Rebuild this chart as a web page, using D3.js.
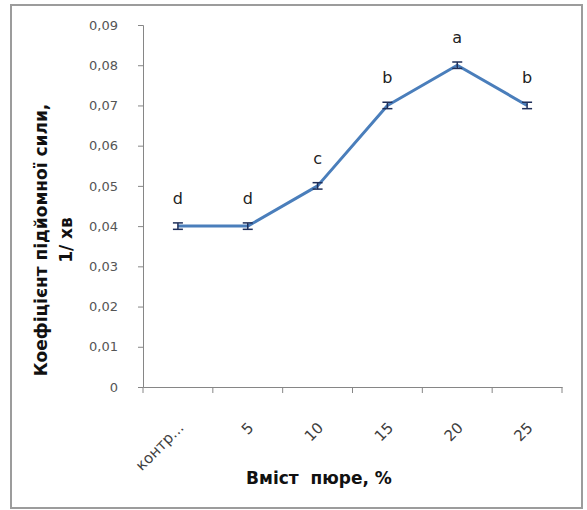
<!DOCTYPE html>
<html>
<head>
<meta charset="utf-8">
<script src="https://cdn.jsdelivr.net/npm/d3@7"></script>
<style>
  body { margin: 0; background: #fff; }
  text { font-family: "DejaVu Sans", Verdana, sans-serif; }
</style>
</head>
<body>
<svg id="viz"></svg>
<script>
var width = 587;
var height = 510;

// data
var categories = ["контр...", "5", "10", "15", "20", "25"];
var values = [0.04, 0.04, 0.05, 0.07, 0.08, 0.07];
var errors = [0.0008, 0.0008, 0.0008, 0.0008, 0.0008, 0.0008];
var letters = ["d", "d", "c", "b", "a", "b"];
var yTicks = [0, 0.01, 0.02, 0.03, 0.04, 0.05, 0.06, 0.07, 0.08, 0.09];

var svg = d3.select("#viz").attr("width", width).attr("height", height);

// outer frame
svg.append("rect")
    .attr("x", 11).attr("y", 5)
    .attr("width", 571).attr("height", 503)
    .style("fill", "none")
    .style("stroke", "#9c9c9c")
    .style("stroke-width", 2);

var x = d3.scaleBand().domain(categories).range([143, 562]);
var y = d3.scaleLinear().domain([0, 0.09]).range([387, 25]);

var fmt = function(d) { return d === 0 ? "0" : d3.format(".2f")(d).replace(".", ","); };

// y axis
var yAxis = svg.append("g")
    .attr("transform", "translate(143,0)")
    .call(d3.axisLeft(y).tickValues(yTicks).tickFormat(fmt).tickSize(5).tickPadding(20));
yAxis.selectAll("text").style("font-size", "13px").style("fill", "#555");
yAxis.selectAll("line,path").style("stroke", "#868686");

// x axis
var xAxis = svg.append("g")
    .attr("transform", "translate(0,387)")
    .call(d3.axisBottom(x).tickSize(0).tickFormat(""));
xAxis.selectAll("path").style("stroke", "#868686");

// x tick marks between categories
var bounds = categories.map(function(c) { return x(c); }).concat([x.range()[1]]);
svg.append("g").selectAll("line")
    .data(bounds)
    .enter().append("line")
    .attr("x1", function(d) { return d; })
    .attr("x2", function(d) { return d; })
    .attr("y1", 387).attr("y2", 393)
    .style("stroke", "#868686");

// rotated category labels
svg.append("g").selectAll("text")
    .data(categories)
    .enter().append("text")
    .attr("transform", function(d) {
        return "translate(" + (x(d) + x.bandwidth() / 2 + 3) + ",425) rotate(-45)";
    })
    .attr("text-anchor", "end")
    .attr("dy", "0.35em")
    .style("font-size", "15px")
    .style("fill", "#404040")
    .text(function(d) { return d; });

// line
var line = d3.line()
    .x(function(d, i) { return x(categories[i]) + x.bandwidth() / 2; })
    .y(function(d) { return y(d); });

svg.append("path")
    .datum(values)
    .attr("d", line)
    .style("fill", "none")
    .style("stroke", "#4a7ebb")
    .style("stroke-width", 3)
    .style("stroke-linejoin", "round");

// error bars
var eb = svg.append("g").selectAll("g")
    .data(values)
    .enter().append("g")
    .attr("transform", function(d, i) {
        return "translate(" + (x(categories[i]) + x.bandwidth() / 2) + ",0)";
    });
eb.append("line")
    .attr("y1", function(d, i) { return y(d - errors[i]); })
    .attr("y2", function(d, i) { return y(d + errors[i]); })
    .style("stroke", "#1f2f5a").style("stroke-width", 1.5);
eb.append("line")
    .attr("x1", -5).attr("x2", 5)
    .attr("y1", function(d, i) { return y(d - errors[i]); })
    .attr("y2", function(d, i) { return y(d - errors[i]); })
    .style("stroke", "#1f2f5a").style("stroke-width", 1.5);
eb.append("line")
    .attr("x1", -5).attr("x2", 5)
    .attr("y1", function(d, i) { return y(d + errors[i]); })
    .attr("y2", function(d, i) { return y(d + errors[i]); })
    .style("stroke", "#1f2f5a").style("stroke-width", 1.5);

// significance letters
svg.append("g").selectAll("text")
    .data(values)
    .enter().append("text")
    .attr("x", function(d, i) { return x(categories[i]) + x.bandwidth() / 2; })
    .attr("y", function(d) { return y(d) - 22; })
    .attr("text-anchor", "middle")
    .style("font-size", "16px")
    .style("fill", "#222")
    .text(function(d, i) { return letters[i]; });

// axis titles
svg.append("text")
    .attr("x", 319).attr("y", 484)
    .attr("text-anchor", "middle")
    .style("font-weight", "bold")
    .style("font-size", "17px")
    .style("fill", "#111")
    .style("white-space", "pre")
    .text("Вміст  пюре, %");

var yTitle = svg.append("text")
    .attr("transform", "translate(0,240) rotate(-90)")
    .attr("text-anchor", "middle")
    .style("font-weight", "bold")
    .style("font-size", "17px")
    .style("fill", "#111");
yTitle.append("tspan").attr("x", 0).attr("y", 47).text("Коефіцієнт підйомної сили,");
yTitle.append("tspan").attr("x", 0).attr("y", 72).text("1/ хв");
</script>
</body>
</html>
